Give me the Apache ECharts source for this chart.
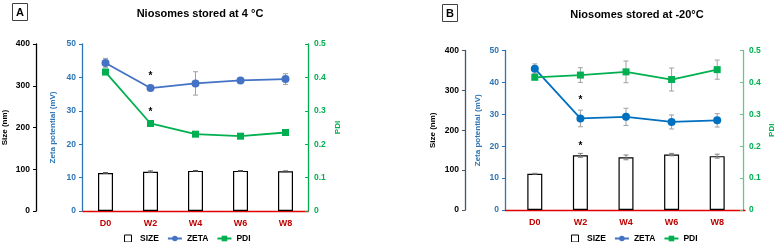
<!DOCTYPE html>
<html>
<head>
<meta charset="UTF-8">
<script src="https://cdn.jsdelivr.net/npm/echarts@6/dist/echarts.min.js"></script>
<style>
  html, body { margin: 0; padding: 0; background: #fff; }
  #chart { width: 777px; height: 242px; }
</style>
</head>
<body>
<div id="chart"></div>
<script>
// data
var categories = ['D0', 'W2', 'W4', 'W6', 'W8'];

var sizeA    = [91, 94, 96, 96, 95];
var sizeAErr = [1, 2, 1, 1, 1];
var zetaA    = [44.3, 36.8, 38.2, 39.1, 39.5];
var zetaAErr = [1.4, 0.3, 3.5, 0.7, 1.6];
var pdiA     = [0.416, 0.262, 0.230, 0.224, 0.235];
var pdiAErr  = [0.004, 0.003, 0.003, 0.003, 0.003];

var sizeB    = [91, 137, 132, 139, 135];
var sizeBErr = [1, 5, 6, 3, 5];
var zetaB    = [44.3, 28.7, 29.2, 27.6, 28.1];
var zetaBErr = [1.5, 2.6, 2.7, 2.2, 2.1];
var pdiB     = [0.416, 0.423, 0.433, 0.409, 0.440];
var pdiBErr  = [0.006, 0.023, 0.034, 0.036, 0.030];

var sizeTicks = [0, 400, 100];
var zetaTicks = [0, 50, 10];
var pdiTicks  = [0, 0.5, 0.1];

var FONT = 'Liberation Sans';
var BLUE = '#2e75b6', GREEN = '#00b050', RED = '#c00000';

var chart = echarts.init(document.getElementById('chart'));

function errBars(color) {
  return function (params, api) {
    var i = api.value(0);
    var lo = api.coord([i, api.value(1)]);
    var hi = api.coord([i, api.value(2)]);
    var w = 2.5;
    var st = { stroke: color, lineWidth: 1 };
    return { type: 'group', children: [
      { type: 'line', shape: { x1: lo[0], y1: lo[1], x2: hi[0], y2: hi[1] }, style: st },
      { type: 'line', shape: { x1: lo[0] - w, y1: lo[1], x2: lo[0] + w, y2: lo[1] }, style: st },
      { type: 'line', shape: { x1: hi[0] - w, y1: hi[1], x2: hi[0] + w, y2: hi[1] }, style: st }
    ]};
  };
}
function errData(vals, errs) {
  return vals.map(function (v, i) { return [i, v - errs[i], v + errs[i]]; });
}
function star(vals, idx, dist) {
  return vals.map(function (v, i) {
    if (i !== idx) return v;
    return { value: v, label: { show: true, position: 'top', distance: dist, formatter: '*',
      color: '#000', fontSize: 10, fontWeight: 'bold', fontFamily: FONT } };
  });
}

function yAx(grid, pos, offset, ticks, color, lineColor, name, gap, tickInside) {
  return {
    type: 'value', gridIndex: grid, position: pos, offset: offset,
    min: ticks[0], max: ticks[1], interval: ticks[2],
    name: name, nameLocation: 'middle', nameGap: gap,
    nameTextStyle: { color: color, fontSize: 8, fontWeight: 'bold', fontFamily: FONT },
    axisLine: { show: true, lineStyle: { color: lineColor, width: 1.3 } },
    axisTick: { show: true, inside: !!tickInside, length: 3, lineStyle: { color: lineColor } },
    axisLabel: { color: color, fontSize: 8.5, fontWeight: 'bold', fontFamily: FONT, margin: 6 },
    splitLine: { show: false }
  };
}
function xAx(grid, showLine) {
  return {
    type: 'category', gridIndex: grid, data: categories,
    axisLine: { show: showLine, lineStyle: { color: '#e00000', width: 1.3 } },
    axisTick: { show: false },
    axisLabel: { color: RED, fontSize: 9, fontWeight: 'bold', fontFamily: FONT, margin: 8 }
  };
}

var legendBase = {
  top: 229, itemWidth: 14, itemHeight: 7, itemGap: 8,
  textStyle: { color: '#000', fontSize: 8.5, fontWeight: 'bold', fontFamily: FONT },
  data: [
    { name: 'SIZE', icon: 'path://M0,0H10V10H0Z', itemStyle: { color: '#fff', borderColor: '#000', borderWidth: 1 } },
    { name: 'ZETA' },
    { name: 'PDI' }
  ]
};

chart.setOption({
  animation: false,
  title: [
    { text: 'Niosomes stored at 4 °C', left: 195, top: 3, textAlign: 'center',
      textStyle: { fontSize: 11, fontWeight: 'bold', fontFamily: FONT, color: '#000' } },
    { text: 'Niosomes stored at -20°C', left: 632, top: 4, textAlign: 'center',
      textStyle: { fontSize: 11, fontWeight: 'bold', fontFamily: FONT, color: '#000' } },
    { text: 'A', left: 12, top: 3, padding: [4, 4, 3, 4], borderWidth: 1, borderColor: '#404040',
      textStyle: { fontSize: 11, fontWeight: 'bold', fontFamily: FONT, color: '#000' } },
    { text: 'B', left: 442, top: 4, padding: [4, 4, 3, 4], borderWidth: 1, borderColor: '#404040',
      textStyle: { fontSize: 11, fontWeight: 'bold', fontFamily: FONT, color: '#000' } }
  ],
  legend: [
    Object.assign({}, legendBase, { left: 119 }),
    Object.assign({}, legendBase, { left: 566 })
  ],
  grid: [
    { left: 80, right: 469, top: 44, bottom: 31 },
    { left: 512, right: 35, top: 50.5, bottom: 32 },
    { left: 505, right: 32, top: 50.5, bottom: 32 }
  ],
  xAxis: [
    xAx(0, true),
    xAx(1, false),
    { type: 'value', gridIndex: 2, min: 0, max: 1, axisLine: { show: true, onZero: false, lineStyle: { color: '#e00000', width: 1.3 } },
      axisTick: { show: false }, axisLabel: { show: false }, splitLine: { show: false } }
  ],
  yAxis: [
    yAx(0, 'left', 47, sizeTicks, '#000', '#000', 'Size (nm)', 27),
    yAx(0, 'left', 1, zetaTicks, BLUE, BLUE, 'Zeta potential (mV)', 25),
    yAx(0, 'right', 0, pdiTicks, GREEN, GREEN, 'PDI', 26, true),
    yAx(1, 'left', 47, sizeTicks, '#000', '#44546a', 'Size (nm)', 28),
    yAx(1, 'left', 7, zetaTicks, BLUE, BLUE, 'Zeta potential (mV)', 23),
    yAx(1, 'right', 3, pdiTicks, GREEN, '#6cc38e', 'PDI', 25, true),
    { type: 'value', gridIndex: 2, show: false }
  ],
  series: [
    // panel A
    { name: 'SIZE', type: 'bar', xAxisIndex: 0, yAxisIndex: 0, data: sizeA, barWidth: 15,
      itemStyle: { color: '#fff', borderColor: '#000', borderWidth: 1.2 } },
    { type: 'custom', xAxisIndex: 0, yAxisIndex: 0, renderItem: errBars('#555'), data: errData(sizeA, sizeAErr), z: 3 },
    { type: 'custom', xAxisIndex: 0, yAxisIndex: 1, renderItem: errBars('#a0a0a0'), data: errData(zetaA, zetaAErr), z: 3 },
    { type: 'custom', xAxisIndex: 0, yAxisIndex: 2, renderItem: errBars('#a0a0a0'), data: errData(pdiA, pdiAErr), z: 3 },
    { name: 'ZETA', type: 'line', xAxisIndex: 0, yAxisIndex: 1, data: star(zetaA, 1, 3), z: 5,
      symbol: 'circle', symbolSize: 8, color: '#4472c4', lineStyle: { width: 1.8 } },
    { name: 'PDI', type: 'line', xAxisIndex: 0, yAxisIndex: 2, data: star(pdiA, 1, 3), z: 5,
      symbol: 'rect', symbolSize: 7, color: GREEN, lineStyle: { width: 1.8 } },
    // panel B
    { name: 'SIZE', type: 'bar', xAxisIndex: 1, yAxisIndex: 3, data: star(sizeB, 1, 4), barWidth: 15,
      itemStyle: { color: '#fff', borderColor: '#000', borderWidth: 1.2 } },
    { type: 'custom', xAxisIndex: 1, yAxisIndex: 3, renderItem: errBars('#808080'), data: errData(sizeB, sizeBErr), z: 3 },
    { type: 'custom', xAxisIndex: 1, yAxisIndex: 4, renderItem: errBars('#a0a0a0'), data: errData(zetaB, zetaBErr), z: 3 },
    { type: 'custom', xAxisIndex: 1, yAxisIndex: 5, renderItem: errBars('#a0a0a0'), data: errData(pdiB, pdiBErr), z: 3 },
    { name: 'ZETA', type: 'line', xAxisIndex: 1, yAxisIndex: 4, data: star(zetaB, 1, 9), z: 5,
      symbol: 'circle', symbolSize: 8, color: '#0070c0', lineStyle: { width: 1.8 } },
    { name: 'PDI', type: 'line', xAxisIndex: 1, yAxisIndex: 5, data: pdiB, z: 5,
      symbol: 'rect', symbolSize: 7, color: GREEN, lineStyle: { width: 1.8 } }
  ]
});
</script>
</body>
</html>
